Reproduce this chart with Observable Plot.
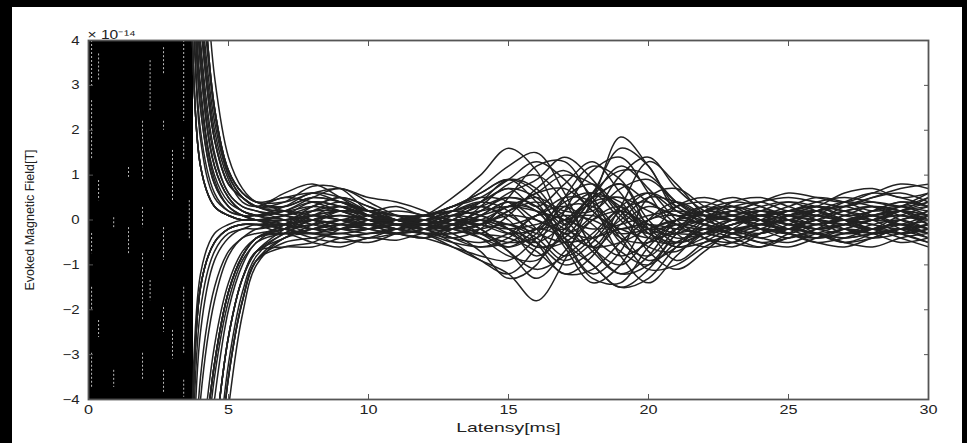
<!DOCTYPE html>
<html>
<head>
<meta charset="utf-8">
<script src="https://cdn.jsdelivr.net/npm/d3@7"></script>
<script src="https://cdn.jsdelivr.net/npm/@observablehq/plot@0.6"></script>
<style>
  html, body { margin: 0; padding: 0; background: #000; width: 967px; height: 443px; overflow: hidden; }
  #panel { position: absolute; left: 12px; top: 7px; width: 950px; height: 446px; background: #fff; }
  #panel svg { display: block; }
</style>
</head>
<body>
<div id="panel"></div>
<script>
// Latency sample times (ms)
const times = [3.6, 4, 4.5, 5, 5.5, 6, 7, 8, 9, 10, 11, 12, 13, 14, 15, 16, 17, 18, 19, 20, 21, 22, 23, 24, 25, 26, 27, 28, 29, 30];
const xTicks = [0, 5, 10, 15, 20, 25, 30];
const yTicks = [-4, -3, -2, -1, 0, 1, 2, 3, 4];
const scaleLabel = "× 10⁻¹⁴";
const xLabel = "Latensy[ms]";
const yLabel = "Evoked Magnetic Field[T]";
// stimulus artifact (saturated, overlapping traces), ms
const artifact = [{start: 0, end: 3.75}];
// light gaps between saturated traces inside the artifact (ms, top, bottom)
const gapT   = [0.11, 0.11, 0.11, 0.11, 0.11, 0.36, 0.36, 0.36, 0.9, 0.9, 1.43, 1.43, 1.93, 1.93, 1.93, 1.93, 2.2, 2.2, 2.68, 2.68, 2.68, 2.68, 2.68, 3.0, 3.0, 3.4, 3.4, 3.4, 3.4, 3.6];
const gapTop = [4.0, 2.66, -0.3, -1.5, -2.97, 3.7, 0.88, -2.24, 0.05, -3.35, -0.17, 1.17, 2.2, 0.28, -0.75, -2.97, 3.55, -1.35, 3.84, 2.2, -0.17, -1.95, -3.35, 1.55, -2.46, 4.0, 1.84, -1.5, -3.57, 0.43];
const gapBot = [2.95, 1.33, -0.75, -2.0, -3.73, 3.1, 0.43, -2.62, -0.17, -3.73, -0.75, 0.95, 0.88, -0.17, -2.24, -3.57, 2.44, -1.8, 3.26, 2.0, -0.9, -2.5, -3.86, 0.43, -3.1, 2.2, 1.33, -2.97, -3.95, -0.45];

// Evoked field traces (units of 1e-14 T), one array per channel
const ch01 = [9, 4.5, 1.8, 0.8, 0.5, 0.3, 0.4, 0.75, 0.7, 0.2, 0.0, 0.1, 0.5, 1.0, 1.6, 1.1, 0.0, 0.6, 1.6, 1.2, 0.2, 0.1, 0.3, 0.4, 0.2, 0.3, 0.6, 0.7, 0.5, 0.6];
const ch02 = [-9, -8, -5, -2.6, -1.3, -0.7, -0.4, -0.1, 0.2, 0.1, -0.1, -0.3, -0.6, -0.9, -1.2, -1.8, -0.9, 0.4, 0.8, -0.2, -0.9, -0.5, -0.2, -0.4, -0.5, -0.3, -0.1, 0.1, -0.2, -0.4];
const ch03 = [9, 6, 2.5, 1.1, 0.6, 0.4, 0.5, 0.6, 0.4, 0.2, 0.3, 0.1, 0.3, 0.6, 0.9, 0.6, -0.4, -1.2, -0.7, 0.5, 0.7, 0.3, 0.0, 0.1, 0.3, 0.5, 0.4, 0.2, 0.3, 0.5];
const ch04 = [-9, -6, -3.2, -1.6, -0.8, -0.4, -0.3, -0.5, -0.6, -0.4, -0.45, -0.3, -0.4, -0.2, 0.5, 1.2, 1.3, 0.4, -0.8, -1.4, -0.8, -0.3, -0.5, -0.6, -0.3, 0.0, -0.2, -0.4, -0.3, -0.1];
const ch05 = [9, 3.5, 1.2, 0.5, 0.2, 0.1, 0.2, 0.5, 0.7, 0.4, 0.1, -0.1, -0.2, 0.1, 0.4, 0.2, -0.5, -1.0, -1.5, -1.1, -0.3, 0.2, 0.3, 0.1, -0.1, 0.0, 0.3, 0.5, 0.6, 0.4];
const ch06 = [-9, -9, -6.5, -3.5, -1.8, -0.9, -0.5, -0.4, -0.3, -0.4, -0.3, -0.2, 0.0, 0.4, 0.9, 0.7, -0.1, -0.6, 0.3, 1.3, 0.8, 0.1, -0.3, -0.2, 0.1, 0.2, 0.0, -0.3, -0.2, 0.1];
const ch07 = [9, 1.2, 0.3, 0.1, 0.0, 0.0, 0.1, 0.3, 0.5, 0.3, 0.0, -0.1, 0.2, 0.7, 1.2, 1.5, 0.6, -0.6, -1.0, -0.4, 0.3, 0.5, 0.3, 0.0, -0.2, 0.1, 0.4, 0.6, 0.5, 0.3];
const ch08 = [-9, -1.5, -0.5, -0.2, -0.1, -0.1, -0.2, -0.4, -0.5, -0.4, -0.2, -0.1, -0.3, -0.7, -1.3, -1.0, 0.2, 1.1, 1.4, 0.6, -0.3, -0.6, -0.5, -0.2, -0.3, -0.5, -0.6, -0.4, -0.2, -0.3];
const ch09 = [9, 2.5, 0.8, 0.3, 0.1, 0.0, -0.2, -0.3, -0.1, 0.1, 0.2, 0.1, -0.1, -0.4, -0.8, -0.9, -0.2, 0.6, 1.1, 1.0, 0.4, 0.0, -0.2, -0.3, -0.1, 0.2, 0.3, 0.1, -0.1, 0.0];
const ch10 = [-9, -8, -5, -2.6, -1.3, -0.7, -0.6, -0.6, -0.4, -0.3, -0.3, -0.4, -0.1, 0.2, 0.5, 0.3, -0.5, -1.3, -1.4, -0.6, -0.1, -0.2, -0.4, -0.6, -0.4, -0.3, -0.5, -0.6, -0.4, -0.3];
const ch11 = [9, 4.5, 1.8, 0.8, 0.5, 0.3, 0.3, 0.5, 0.4, 0.1, -0.1, -0.2, -0.5, -0.9, -1.2, -0.6, 0.5, 1.2, 0.9, 0.0, -0.5, -0.3, 0.0, 0.2, 0.1, -0.1, 0.1, 0.3, 0.2, -0.1];
const ch12 = [-9, -6, -3.2, -1.6, -0.8, -0.4, -0.3, -0.2, 0.0, -0.1, -0.3, -0.4, -0.2, 0.3, 0.8, 1.0, 0.4, -0.6, -1.2, -1.0, -0.3, 0.2, 0.4, 0.3, 0.0, -0.2, -0.1, 0.2, 0.4, 0.3];
const ch13 = [9, 6, 2.5, 1.1, 0.6, 0.4, 0.4, 0.6, 0.7, 0.5, 0.4, 0.2, -0.1, 0.0, 0.3, 0.5, 0.2, 0.2, 0.7, 0.9, 0.4, 0.1, 0.2, 0.4, 0.5, 0.4, 0.3, 0.5, 0.7, 0.8];
const ch14 = [-9, -9, -6.5, -3.5, -1.8, -0.9, -0.4, -0.3, -0.4, -0.5, -0.3, -0.1, 0.1, -0.2, -0.7, -1.1, -0.8, -0.3, 0.2, -0.2, -0.6, -0.4, -0.1, 0.0, -0.2, -0.4, -0.3, -0.1, 0.0, -0.2];
const ch15 = [9, 1.2, 0.3, 0.1, 0.0, 0.0, 0.0, 0.2, 0.3, 0.1, -0.1, -0.2, -0.1, 0.2, 0.6, 0.9, 1.4, 0.9, 0.1, -0.3, 0.0, 0.3, 0.5, 0.3, 0.1, 0.0, 0.2, 0.3, 0.1, 0.0];
const ch16 = [-9, -1.5, -0.5, -0.2, -0.1, -0.1, -0.1, 0.0, 0.1, 0.0, -0.2, -0.3, -0.5, -0.6, -0.5, -0.2, -0.4, -1.0, -1.5, -1.3, -0.6, -0.2, -0.3, -0.5, -0.6, -0.4, -0.2, -0.3, -0.5, -0.4];
const ch17 = [9, 3.5, 1.2, 0.5, 0.2, 0.1, 0.0, -0.2, -0.3, -0.2, 0.0, 0.1, 0.3, 0.6, 0.9, 0.4, -0.3, 0.1, 1.0, 1.4, 0.7, 0.2, 0.0, 0.2, 0.4, 0.3, 0.1, 0.2, 0.4, 0.3];
const ch18 = [-9, -8, -5, -2.6, -1.3, -0.7, -0.3, 0.0, 0.1, -0.1, -0.3, -0.4, -0.6, -0.8, -0.9, -0.4, 0.3, 0.3, -0.4, -1.1, -1.0, -0.6, -0.3, -0.1, -0.3, -0.5, -0.4, -0.2, -0.1, -0.3];
const ch19 = [9, 2.5, 0.8, 0.3, 0.1, 0.0, 0.1, 0.2, 0.2, 0.0, -0.1, 0.0, 0.2, 0.4, 0.2, -0.5, -1.2, -0.8, 0.1, 0.6, 0.3, -0.1, -0.3, -0.1, 0.2, 0.3, 0.1, 0.0, 0.2, 0.5];
const ch20 = [-9, -6, -3.2, -1.6, -0.8, -0.4, -0.2, 0.1, 0.3, 0.2, 0.0, -0.1, 0.0, -0.3, -0.6, -0.3, 0.5, 0.8, 0.2, -0.7, -1.1, -0.7, -0.2, 0.1, 0.0, -0.3, -0.5, -0.3, 0.0, 0.1];
const ch21 = [9, 4.5, 1.8, 0.8, 0.5, 0.3, 0.1, -0.1, -0.2, 0.0, 0.1, 0.0, -0.2, -0.3, 0.1, 0.7, 1.1, 0.5, -0.5, -0.8, -0.2, 0.2, 0.1, -0.1, 0.0, 0.2, 0.4, 0.3, 0.0, -0.2];
const ch22 = [-9, -9, -6.5, -3.5, -1.8, -0.9, -0.6, -0.5, -0.2, 0.0, 0.0, -0.1, -0.4, -0.6, -0.4, 0.1, 0.0, -0.7, -1.2, -0.8, 0.0, 0.3, 0.1, -0.2, -0.4, -0.2, 0.1, 0.0, -0.3, -0.5];
const ch23 = [9, 1.2, 0.3, 0.1, 0.0, 0.0, 0.1, 0.4, 0.3, 0.0, -0.2, -0.3, -0.3, -0.1, 0.3, 0.2, -0.6, -1.4, -1.0, 0.0, 0.4, 0.1, -0.2, -0.4, -0.2, 0.0, -0.1, -0.2, 0.0, 0.2];
const ch24 = [-9, -1.5, -0.5, -0.2, -0.1, -0.1, -0.3, -0.2, 0.0, 0.1, 0.0, -0.2, -0.2, 0.1, 0.4, 0.0, -0.2, 0.5, 1.2, 0.7, 0.0, -0.4, -0.6, -0.3, 0.1, 0.2, 0.0, -0.2, -0.1, 0.1];
const ch25 = [9, 6, 2.5, 1.1, 0.6, 0.4, 0.2, 0.0, -0.2, -0.2, -0.1, -0.1, 0.0, -0.2, -0.7, -1.3, -0.7, 0.0, 0.3, -0.3, -0.6, -0.5, -0.3, 0.0, 0.2, 0.0, -0.3, -0.2, 0.1, 0.3];
const ch26 = [-9, -8, -5, -2.6, -1.3, -0.7, -0.2, 0.2, 0.4, 0.2, 0.0, 0.0, 0.2, 0.1, -0.2, -0.8, -0.3, 0.5, 0.4, -0.4, -0.5, 0.0, 0.4, 0.5, 0.3, 0.1, 0.0, 0.2, 0.3, 0.1];
const ch27 = [9, 3.5, 1.2, 0.5, 0.2, 0.1, -0.1, -0.3, -0.4, -0.3, -0.2, -0.3, -0.2, 0.0, -0.1, -0.4, -0.9, -0.5, 0.2, 0.4, -0.1, -0.4, -0.5, -0.3, -0.2, -0.3, -0.5, -0.4, -0.2, -0.4];
const ch28 = [-9, -6, -3.2, -1.6, -0.8, -0.4, -0.1, 0.3, 0.5, 0.3, 0.1, 0.1, 0.3, 0.5, 0.4, -0.2, -0.8, -0.4, 0.3, 0.6, 0.2, 0.0, 0.1, 0.3, 0.4, 0.2, 0.0, 0.1, 0.3, 0.6];
const ch29 = [9, 1.2, 0.3, 0.1, 0.0, 0.0, -0.1, -0.2, -0.1, -0.2, -0.3, -0.2, 0.0, 0.3, 0.0, -0.6, -0.4, 0.3, 0.5, -0.1, -0.4, -0.3, -0.1, 0.1, 0.0, -0.1, 0.0, 0.1, -0.1, -0.3];
const ch30 = [-9, -1.5, -0.5, -0.2, -0.1, -0.1, 0.0, 0.1, 0.0, -0.2, -0.3, -0.2, 0.1, 0.4, 0.7, 0.3, 0.8, 1.3, 0.6, -0.2, -0.3, 0.0, 0.2, 0.0, -0.3, -0.4, -0.2, 0.0, 0.2, 0.1];
const ch31 = [9, 5, 2.2, 1.0, 0.5, 0.3, 0.6, 0.8, 0.5, 0.1, -0.1, 0.0, 0.2, 0.4, 0.7, 0.5, -0.1, 0.5, 1.85, 1.2, 0.3, 0.1, 0.2, 0.4, 0.6, 0.5, 0.4, 0.6, 0.8, 0.7];
const ch32 = [-9, -7, -4, -2, -1, -0.5, -0.3, -0.3, -0.2, -0.1, -0.2, -0.3, -0.3, -0.2, -0.1, -0.3, -0.5, -0.4, -0.2, -0.1, -0.2, -0.3, -0.4, -0.3, -0.2, -0.3, -0.4, -0.3, -0.2, -0.3];
const ch33 = [9, 2, 0.6, 0.2, 0.1, 0.1, 0.2, 0.1, 0.0, -0.1, -0.1, 0.0, 0.1, 0.2, 0.3, 0.2, 0.0, -0.2, -0.1, 0.1, 0.2, 0.1, 0.0, 0.1, 0.2, 0.1, 0.0, 0.1, 0.2, 0.1];
const ch34 = [-9, -2.5, -0.9, -0.4, -0.2, -0.2, -0.1, 0.0, -0.1, -0.2, -0.1, -0.1, -0.2, -0.1, 0.1, 0.0, -0.3, -0.6, -0.5, -0.2, 0.0, -0.1, -0.2, -0.1, 0.0, -0.1, -0.2, -0.3, -0.2, -0.1];
const ch35 = [9, 3, 1.0, 0.4, 0.2, 0.1, 0.2, 0.4, 0.3, 0.1, 0.0, 0.0, 0.1, 0.0, -0.3, -0.5, -0.1, 0.4, 0.5, 0.2, -0.1, -0.2, -0.1, 0.1, 0.0, -0.2, -0.1, 0.1, 0.2, 0.0];
const ch36 = [-9, -6.5, -3.5, -1.8, -0.9, -0.5, -0.1, 0.1, 0.0, -0.1, 0.0, 0.1, 0.0, -0.1, 0.2, 0.6, 0.7, 0.2, -0.4, -0.5, -0.2, 0.0, 0.1, 0.0, -0.1, -0.2, -0.1, 0.0, 0.1, 0.0];
const ch37 = [9, 4, 1.5, 0.6, 0.3, 0.2, 0.1, 0.0, -0.1, -0.1, 0.0, 0.1, 0.0, -0.1, -0.2, -0.1, 0.1, 0.0, -0.3, -0.2, 0.0, 0.1, 0.0, -0.1, -0.2, -0.1, 0.0, -0.1, -0.2, -0.1];
const ch38 = [-9, -4, -1.8, -0.8, -0.4, -0.3, -0.2, -0.1, 0.0, 0.0, -0.1, -0.2, -0.1, 0.0, -0.2, -0.5, -1.0, -0.7, -0.1, 0.3, 0.1, -0.1, -0.2, -0.1, 0.0, 0.1, 0.0, -0.2, -0.3, -0.2];
const ch39 = [9, 7, 3.2, 1.4, 0.7, 0.4, 0.3, 0.5, 0.4, 0.2, 0.1, 0.1, 0.2, 0.3, 0.1, -0.2, 0.0, 0.5, 0.8, 0.4, 0.1, 0.2, 0.3, 0.2, 0.1, 0.2, 0.3, 0.4, 0.3, 0.2];
const ch40 = [-9, -9, -7.5, -4.2, -2.1, -1.0, -0.4, -0.2, -0.1, -0.1, -0.2, -0.1, 0.0, -0.1, -0.3, -0.2, 0.2, 0.6, 0.3, -0.3, -0.5, -0.3, -0.1, 0.0, -0.1, -0.2, -0.3, -0.2, -0.1, -0.2];
const ch41 = [9, 1.8, 0.5, 0.2, 0.1, 0.0, -0.1, 0.1, 0.2, 0.1, 0.0, -0.1, -0.2, -0.4, -0.6, -0.2, 0.4, 0.6, 0.0, -0.6, -0.7, -0.3, 0.0, 0.1, -0.1, -0.3, -0.2, 0.0, 0.1, -0.1];
const ch42 = [-9, -1.2, -0.3, -0.1, 0.0, 0.0, 0.0, 0.1, 0.2, 0.2, 0.1, 0.0, 0.1, 0.3, 0.5, 0.3, -0.2, -0.4, 0.0, 0.5, 0.4, 0.1, 0.0, 0.1, 0.2, 0.3, 0.2, 0.1, 0.2, 0.4];
const ch43 = [9, 3.8, 1.4, 0.6, 0.3, 0.2, 0.0, -0.2, -0.2, -0.1, 0.0, 0.0, -0.1, -0.3, -0.4, -0.7, -1.2, -1.1, -0.5, 0.0, 0.1, -0.1, -0.2, -0.2, -0.3, -0.4, -0.3, -0.2, -0.3, -0.5];
const ch44 = [-9, -5.5, -2.8, -1.4, -0.7, -0.4, -0.2, 0.0, 0.2, 0.1, -0.1, -0.2, -0.1, 0.1, 0.3, 0.6, 1.0, 0.8, 0.2, -0.2, -0.1, 0.0, 0.1, 0.2, 0.1, 0.0, -0.1, 0.0, 0.2, 0.3];
const ch45 = [9, 5.5, 2.4, 1.0, 0.5, 0.3, 0.2, 0.3, 0.2, 0.0, -0.1, -0.1, 0.0, 0.0, -0.2, -0.6, -0.5, 0.0, 0.2, -0.1, -0.3, -0.3, -0.2, -0.1, -0.2, -0.3, -0.4, -0.3, -0.2, -0.1];
const ch46 = [-9, -3.5, -1.5, -0.7, -0.4, -0.2, -0.1, 0.0, 0.1, 0.0, 0.0, 0.1, 0.2, 0.1, -0.1, 0.1, 0.5, 0.4, -0.3, -0.9, -0.6, -0.1, 0.1, 0.2, 0.1, 0.1, 0.2, 0.3, 0.2, 0.0];
const ch47 = [9, 2.8, 0.9, 0.3, 0.1, 0.1, 0.3, 0.6, 0.5, 0.2, 0.0, -0.1, -0.2, -0.1, 0.2, 0.4, 0.1, -0.4, -0.8, -0.5, 0.0, 0.2, 0.1, 0.0, 0.1, 0.3, 0.2, 0.0, 0.0, 0.2];
const ch48 = [-9, -8.5, -6, -3.2, -1.6, -0.8, -0.3, -0.1, -0.2, -0.3, -0.2, -0.1, -0.1, -0.3, -0.5, -0.4, 0.0, 0.1, -0.2, -0.4, -0.3, -0.2, -0.3, -0.5, -0.4, -0.2, -0.1, -0.2, -0.4, -0.6];
const ch49 = [9, 4.8, 2.0, 0.9, 0.4, 0.3, 0.5, 0.4, 0.2, 0.0, 0.0, 0.1, 0.3, 0.5, 0.9, 1.3, 0.9, 0.2, -0.2, 0.0, 0.3, 0.4, 0.2, 0.1, 0.2, 0.4, 0.5, 0.4, 0.3, 0.4];
const ch50 = [-9, -2, -0.7, -0.3, -0.2, -0.1, -0.2, -0.3, -0.3, -0.2, -0.1, -0.2, -0.4, -0.5, -0.3, 0.1, 0.3, -0.1, -0.7, -1.0, -0.5, -0.2, 0.0, -0.2, -0.3, -0.1, 0.0, -0.1, -0.3, -0.2];

const channels = [ch01, ch02, ch03, ch04, ch05, ch06, ch07, ch08, ch09, ch10,
                  ch11, ch12, ch13, ch14, ch15, ch16, ch17, ch18, ch19, ch20,
                  ch21, ch22, ch23, ch24, ch25, ch26, ch27, ch28, ch29, ch30,
                  ch31, ch32, ch33, ch34, ch35, ch36, ch37, ch38, ch39, ch40,
                  ch41, ch42, ch43, ch44, ch45, ch46, ch47, ch48, ch49, ch50];

const rows = channels.flatMap((vals, c) => vals.map((v, j) => ({ch: c, t: times[j], v})));
const gaps = gapT.map((t, i) => ({t, top: gapTop[i], bottom: gapBot[i]}));

const chart = Plot.plot({
  width: 950,
  height: 436,
  marginLeft: 76,
  marginRight: 34,
  marginTop: 33,
  marginBottom: 44,
  style: {fontFamily: "'Liberation Sans', Arial, sans-serif", fontSize: "12.5px", color: "#222", background: "#fff"},
  x: {domain: [0, 30]},
  y: {domain: [-4, 4]},
  marks: [
    Plot.rect(artifact, {x1: "start", x2: "end", fill: "#000"}),
    Plot.ruleX(gaps, {x: "t", y1: "top", y2: "bottom", stroke: "#bbb", strokeWidth: 1, strokeDasharray: "2,2"}),
    Plot.line(rows, {x: "t", y: "v", z: "ch", curve: "catmull-rom", stroke: "#222", strokeWidth: 1.5, clip: true}),
    Plot.frame({stroke: "#555", strokeWidth: 1.8}),
    Plot.axisX(xTicks, {tickSize: 0, tickPadding: 6, tickFormat: d => String(d), label: xLabel, labelAnchor: "center", labelArrow: "none", labelOffset: 32}),
    Plot.axisX(xTicks, {tickSize: -5, text: null, label: null, stroke: "#555"}),
    Plot.axisX(xTicks, {anchor: "top", tickSize: -5, text: null, label: null, stroke: "#555"}),
    Plot.axisY(yTicks, {tickSize: 0, tickPadding: 9, label: yLabel, labelAnchor: "center", labelArrow: "none", labelOffset: 63}),
    Plot.axisY(yTicks, {tickSize: -5, text: null, label: null, stroke: "#555"}),
    Plot.axisY(yTicks, {anchor: "right", tickSize: -5, text: null, label: null, stroke: "#555"}),
    Plot.text([scaleLabel], {frameAnchor: "top-left", text: d => d, dy: -10, dx: -1, textAnchor: "start", fontSize: 12})
  ]
});
document.getElementById("panel").appendChild(chart);

// the original figure is horizontally stretched: widen glyphs about their own anchor point
function stretch(selector, sx, anchor) {
  chart.querySelectorAll(selector).forEach(t => {
    const b = t.getBBox();
    const ax = anchor === "start" ? b.x : anchor === "end" ? b.x + b.width : b.x + b.width / 2;
    const ay = b.y + b.height / 2;
    const tr = t.getAttribute("transform") || "";
    t.setAttribute("transform", `${tr} translate(${ax},${ay}) scale(${sx},1) translate(${-ax},${-ay})`);
  });
}
stretch('g[aria-label="x-axis tick label"] text', 1.3, "middle");
stretch('g[aria-label="y-axis tick label"] text', 1.2, "end");
stretch('g[aria-label="x-axis label"] text', 1.55, "middle");
stretch('g[aria-label="text"] text', 1.3, "start");
</script>
</body>
</html>
